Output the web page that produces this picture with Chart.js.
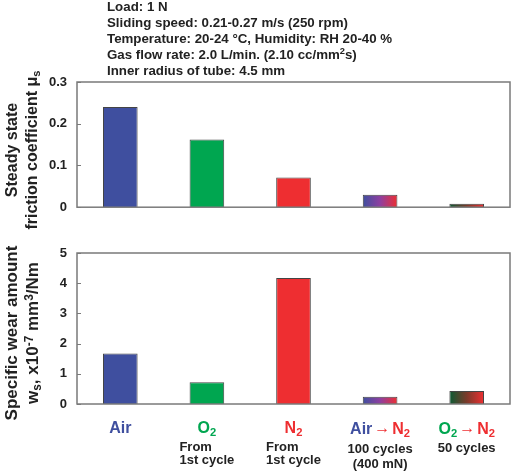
<!DOCTYPE html>
<html>
<head>
<meta charset="utf-8">
<script src="https://cdn.jsdelivr.net/npm/chart.js@4.4.1/dist/chart.umd.min.js"></script>
<style>
  body { margin: 0; background: #fff; font-family: "Liberation Sans", Arial, sans-serif; }
  #wrap { position: relative; width: 512px; height: 473px; overflow: hidden; }
  canvas { position: absolute; left: 0; }
  .hdr { position: absolute; left: 107px; top: -1px; font-size: 13.3px; font-weight: bold; color: #222; line-height: 16px; }
  .ytitle { position: absolute; font-weight: bold; color: #222; white-space: nowrap;
            transform: translate(-50%, -50%) rotate(-90deg); text-align: center; }
  .xl { position: absolute; top: 419px; transform: translateX(-50%); text-align: center; white-space: nowrap;
        font-weight: bold; }
  .xl .main { font-size: 16px; line-height: 18px; }
  .xl .sub2 { font-size: 13px; color: #222; line-height: 13px; margin-top: 3px; }
  .arrow { color: #ee2e31; font-size: 16px; font-weight: normal; margin: 0 2px; vertical-align: 1px; }
  sub { font-size: 70%; vertical-align: -3px; line-height: 0; }
  sup { font-size: 70%; vertical-align: 5px; line-height: 0; }
</style>
</head>
<body>
<div id="wrap">
  <canvas id="frictionChart" style="top:0" width="512" height="225"></canvas>
  <canvas id="wearChart" style="top:230px" width="512" height="243"></canvas>
  <div class="hdr">
    Load: 1 N<br>
    Sliding speed: 0.21-0.27 m/s (250 rpm)<br>
    Temperature: 20-24 °C, Humidity: RH 20-40 %<br>
    Gas flow rate: 2.0 L/min. (2.10 cc/mm<sup>2</sup>s)<br>
    Inner radius of tube: 4.5 mm
  </div>
  <div class="ytitle" style="left:22px; top:150px; font-size:16px; line-height:20px;">Steady state<br>friction coefficient μ<sub>s</sub></div>
  <div class="ytitle" style="left:22px; top:333px; font-size:17px; line-height:21px;">Specific wear amount<br>w<sub>s</sub>, x10<sup>-7</sup> mm<sup>3</sup>/Nm</div>
  <div id="xlabels"></div>
</div>
<script>
const categories = ['Air', 'O2', 'N2', 'Air→N2', 'O2→N2'];
const frictionValues = [0.24, 0.162, 0.071, 0.03, 0.008];
const wearValues = [1.67, 0.72, 4.17, 0.24, 0.43];
const frictionTicks = [0, 0.1, 0.2, 0.3];
const wearTicks = [0, 1, 2, 3, 4, 5];

const BLUE = '#3f4f9f', GREEN = '#00a650', RED = '#ee2e31';

// solid colour or [start, mid, end] gradient per category
const barFills = [BLUE, GREEN, RED, [BLUE, '#8e3fa0', RED], ['#0b5a33', '#7a3a2a', RED]];

function barColor(context) {
  const fill = barFills[context.dataIndex];
  if (typeof fill === 'string') return fill;
  const chart = context.chart;
  if (!chart.chartArea || !chart.scales.x) return fill[0];
  const xs = chart.scales.x;
  const c = xs.getPixelForValue(context.dataIndex);
  const w = xs.width / categories.length * 0.4;
  const g = chart.ctx.createLinearGradient(c - w / 2, 0, c + w / 2, 0);
  g.addColorStop(0, fill[0]);
  g.addColorStop(0.5, fill[1]);
  g.addColorStop(1, fill[2]);
  return g;
}

// frame around plot + short inward ticks on the y axis
const framePlugin = {
  id: 'frame',
  afterDatasetsDraw(chart) {
    const { ctx, chartArea: a, scales } = chart;
    ctx.save();
    ctx.strokeStyle = '#7a7a7a';
    ctx.lineWidth = 1.5;
    ctx.strokeRect(a.left, a.top, a.right - a.left, a.bottom - a.top);
    ctx.lineWidth = 1;
    scales.y.ticks.forEach(t => {
      const y = Math.round(scales.y.getPixelForValue(t.value)) + 0.5;
      ctx.beginPath();
      ctx.moveTo(a.left, y);
      ctx.lineTo(a.left + 4, y);
      ctx.stroke();
    });
    ctx.restore();
  }
};

function makeChart(id, values, ticks, padTop, xHeight) {
  const ctx = document.getElementById(id).getContext('2d');
  return new Chart(ctx, {
    type: 'bar',
    data: {
      labels: categories,
      datasets: [{
        data: values,
        backgroundColor: barColor,
        borderColor: '#444',
        borderWidth: 1,
        categoryPercentage: 1,
        barPercentage: 0.4
      }]
    },
    options: {
      responsive: false,
      animation: false,
      layout: { padding: { top: padTop, right: 2, left: 0, bottom: 0 } },
      plugins: { legend: { display: false }, tooltip: { enabled: false } },
      scales: {
        x: {
          ticks: { display: false },
          grid: { display: false },
          border: { display: false },
          afterFit: s => { s.height = xHeight; }
        },
        y: {
          min: ticks[0],
          max: ticks[ticks.length - 1],
          afterBuildTicks: s => { s.ticks = ticks.map(v => ({ value: v })); },
          ticks: {
            color: '#222',
            padding: 10,
            font: { family: '"Liberation Sans", Arial', size: 13, weight: 'bold' }
          },
          grid: { display: false, drawTicks: false },
          border: { display: false },
          afterFit: s => { s.width = 77; }
        }
      }
    },
    plugins: [framePlugin]
  });
}

const chart1 = makeChart('frictionChart', frictionValues, frictionTicks, 82, 16);
const chart2 = makeChart('wearChart', wearValues, wearTicks, 23, 69);

// category labels under the lower chart
const arrow = '<span class="arrow">→</span>';
const labelHtml = [
  ['<span style="color:' + BLUE + '">Air</span>', ''],
  ['<span style="color:' + GREEN + '">O<sub>2</sub></span>', '<div style="text-align:left">From<br>1st cycle</div>'],
  ['<span style="color:' + RED + '">N<sub>2</sub></span>', '<div style="text-align:left;margin-top:3px">From<br>1st cycle</div>'],
  ['<span style="color:' + BLUE + '">Air</span>' + arrow + '<span style="color:' + RED + '">N<sub>2</sub></span>', '<div style="margin-top:2px;line-height:15px">100 cycles<br>(400 mN)</div>'],
  ['<span style="color:' + GREEN + '">O<sub>2</sub></span>' + arrow + '<span style="color:' + RED + '">N<sub>2</sub></span>', '<div style="margin-top:2px">50 cycles</div>']
];
const box = document.getElementById('xlabels');
categories.forEach((c, i) => {
  const d = document.createElement('div');
  d.className = 'xl';
  d.style.left = chart2.scales.x.getPixelForValue(i) + 'px';
  d.innerHTML = '<div class="main">' + labelHtml[i][0] + '</div>' +
    (labelHtml[i][1] ? '<div class="sub2">' + labelHtml[i][1] + '</div>' : '');
  box.appendChild(d);
});
</script>
</body>
</html>
